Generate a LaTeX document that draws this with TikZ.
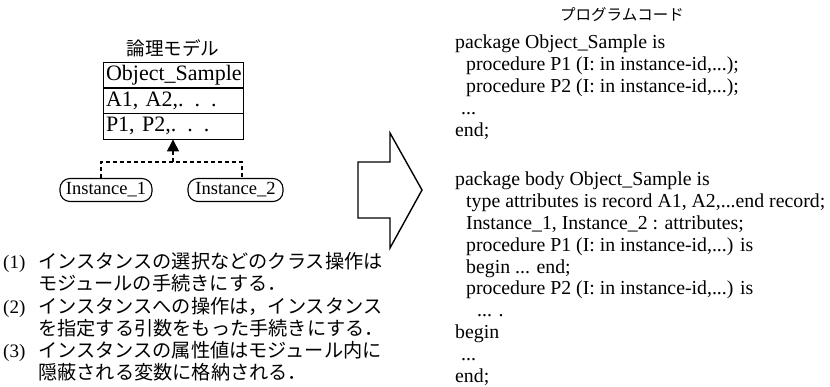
\documentclass[tikz,border=0pt]{standalone}
\usepackage{fontspec}
\setmainfont{Liberation Serif}
\newfontfamily\cjk{Noto Sans CJK JP}
\usetikzlibrary{arrows.meta}
\begin{document}
\begin{tikzpicture}[x=1pt,y=-1pt,
  codeline/.style={anchor=base west, inner sep=0pt, font=\fontsize{19.8}{22}\selectfont},
  jpline/.style={anchor=base west, inner sep=0pt, font=\cjk\fontsize{19.2}{22}\selectfont},
  numline/.style={anchor=base west, inner sep=0pt, font=\fontsize{19}{22}\selectfont},
  clsrow/.style={draw, line width=0.9pt, minimum height=26pt, text width=134pt, inner xsep=3pt, inner ysep=0pt, align=left, font=\fontsize{22}{24}\selectfont},
  inst/.style={draw, line width=1.1pt, rounded corners=10pt, minimum height=23pt, inner sep=0pt, font=\fontsize{18.5}{20}\selectfont},
  dsh/.style={dashed, dash pattern=on 4pt off 3pt, line width=1.3pt},
  bigarrow/.style={draw, line width=1.4pt, line join=miter}
]
\useasboundingbox (0,0) rectangle (830,387);

% left: logical model
\node[font=\cjk\fontsize{18.6}{20}\selectfont] (ltitle) at (173,48) {論理モデル};
\node[clsrow] (cls) at (173,75) {Object\_Sample};
\node[clsrow] (attr) at (173,100.5) {A1, A2,. . .};
\node[clsrow] (ops) at (173,126) {P1, P2,. . .};

\node[inst, minimum width=92pt] (i1) at (106,190) {Instance\_1};
\node[inst, minimum width=95pt] (i2) at (235.5,190) {Instance\_2};

\coordinate (hl) at (101,162);
\coordinate (hr) at (242,162);
\coordinate (hm) at (173,162);
\draw[dsh] (i1.north -| hl) -- (hl) -- (hr) -- (i2.north -| hr);
\draw[dsh, -{Triangle[width=12pt,length=12pt]}] (hm) -- (ops.south);

% list
\node[numline] (n1) at (3,269) {(1)};
\node[jpline] (l1) at (38,269) {インスタンスの選択などのクラス操作は};
\node[jpline] (l2) at (38,291) {モジュールの手続きにする．};
\node[numline] (n2) at (3,313) {(2)};
\node[jpline] (l3) at (38,313) {インスタンスへの操作は，インスタンス};
\node[jpline] (l4) at (38,335) {を指定する引数をもった手続きにする．};
\node[numline] (n3) at (3,357) {(3)};
\node[jpline] (l5) at (38,357) {インスタンスの属性値はモジュール内に};
\node[jpline] (l6) at (38,379) {隠蔽される変数に格納される．};

% big arrow
\draw[bigarrow] (358,162) -- (390,162) -- (390,133) -- (422,190) -- (390,248) -- (390,218) -- (358,218) -- cycle;

% right: program code
\node[font=\cjk\fontsize{15.5}{18}\selectfont] (rtitle) at (622,15) {プログラムコード};
\node[codeline] (c1) at (455,49) {package Object\_Sample is};
\node[codeline] (c2) at (466,71) {procedure P1 (I: in instance-id,...);};
\node[codeline] (c3) at (466,93) {procedure P2 (I: in instance-id,...);};
\node[codeline] (c4) at (461,115) {...};
\node[codeline] (c5) at (455,137) {end;};
\node[codeline] (c7) at (455,186) {package body Object\_Sample is};
\node[codeline] (c8) at (466,207.8) {type attributes is record A1, A2,...end record;};
\node[codeline] (c9) at (466,229.6) {Instance\_1, Instance\_2 : attributes;};
\node[codeline] (c10) at (466,251.4) {procedure P1 (I: in instance-id,...) is};
\node[codeline] (c11) at (466,273.2) {begin ... end;};
\node[codeline] (c12) at (466,295) {procedure P2 (I: in instance-id,...) is};
\node[codeline] (c13) at (477,316.8) {... .};
\node[codeline] (c14) at (455,338.6) {begin};
\node[codeline] (c15) at (461,360.4) {...};
\node[codeline] (c16) at (455,382.2) {end;};
\end{tikzpicture}
\end{document}
